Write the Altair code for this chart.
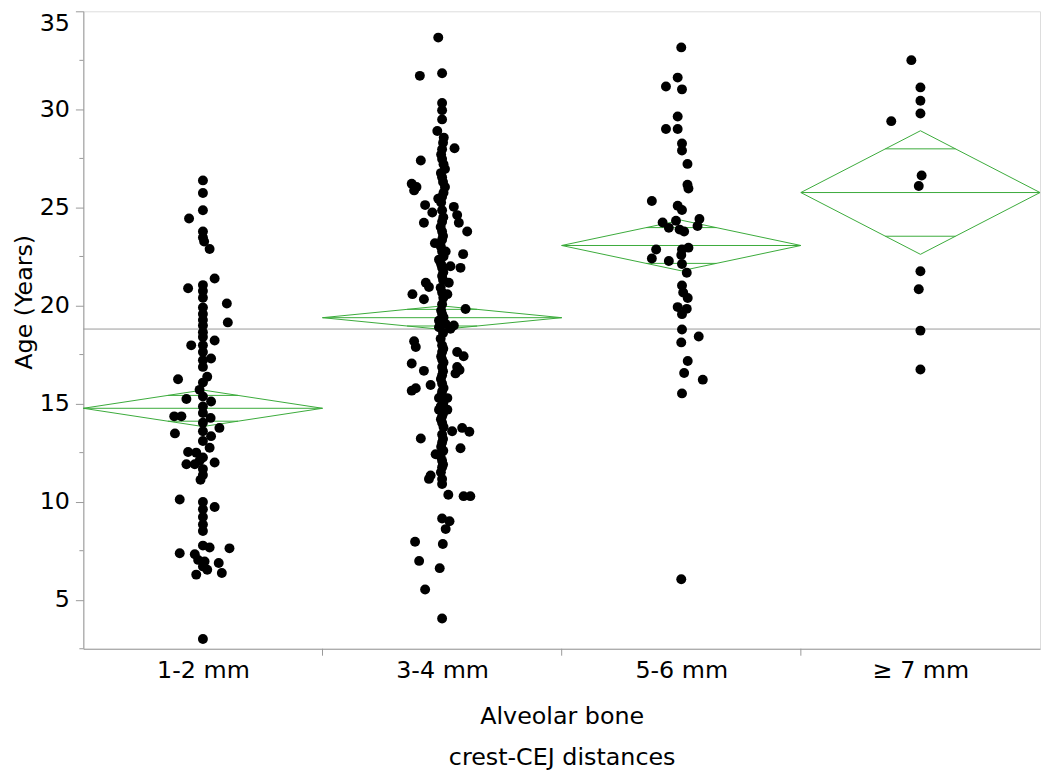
import json
import math
import altair as alt
import pandas as pd

# ---------------- data ----------------
groups = ["1-2 mm", "3-4 mm", "5-6 mm", "≥ 7 mm"]

age_12 = [26.38, 25.74, 24.86, 24.44, 23.77, 23.47, 23.26, 22.88, 21.38, 21.04,
          20.88, 20.74, 20.40, 20.10, 19.90, 19.57, 19.26, 19.14, 18.98, 18.64,
          18.39, 17.97, 18.22, 17.97, 17.63, 17.30, 17.21, 16.87, 16.24, 16.37,
          16.07, 15.70, 15.23, 15.36, 15.11, 14.85, 14.35, 14.35, 14.52, 14.27,
          14.02, 13.76, 13.48, 13.59, 13.34, 13.09, 12.75, 12.53, 12.50, 12.25,
          12.08, 12.00, 11.91, 11.91, 11.66, 11.36, 11.12, 10.11, 9.98, 9.73,
          9.61, 9.22, 8.83, 8.50, 7.37, 7.76, 7.66, 7.62, 7.32, 7.03,
          6.95, 6.87, 6.70, 6.53, 6.28, 6.36, 3.00]
jit_12 = [0, 0, 0, -0.058, 0, 0, 0.005, 0.028, 0.049, 0,
          -0.062, 0, 0, 0.10, 0, 0, 0, 0.104, 0, 0,
          0, -0.049, 0.049, 0, 0, 0.034, 0, 0, -0.104, 0.018,
          0, -0.014, -0.069, 0, 0.034, 0, -0.12, -0.09, 0, 0.032,
          0, 0.069, -0.117, 0, 0.034, 0, 0.028, -0.062, -0.028, 0,
          -0.014, 0.049, -0.069, -0.034, 0, 0, -0.01, -0.097, 0, 0.049,
          0, 0, 0, 0, -0.097, 0, 0.028, 0.111, -0.034, -0.02,
          0.007, 0.066, 0, 0.018, -0.028, 0.079, 0]

age_34 = [33.66, 31.71, 31.84, 30.33, 29.96, 29.49, 28.90, 28.56, 28.02, 27.97,
          27.39, 27.47, 26.96, 26.54, 26.21, 26.04, 25.87, 26.04, 25.54, 25.45,
          25.12, 25.03, 24.74, 24.86, 24.61, 24.22, 24.22, 24.27, 23.77, 23.77,
          23.35, 23.18, 22.76, 22.76, 22.62, 22.34, 21.92, 22.00, 21.92, 21.50,
          21.16, 20.94, 21.16, 20.58, 20.32, 20.66, 20.58, 19.82, 20.07, 19.57,
          19.23, 19.06, 18.98, 18.89, 18.81, 18.18, 17.88, 17.97, 17.63, 17.63,
          17.41, 17.25, 17.04, 16.67, 16.87, 16.54, 16.71, 16.87, 16.45, 15.95,
          15.78, 15.66, 16.03, 15.61, 15.28, 15.28, 14.69, 14.69, 14.35, 14.02,
          13.59, 13.76, 13.56, 13.22, 13.43, 13.01, 12.72, 12.42, 12.08, 11.75,
          11.16, 11.33, 11.16, 10.90, 10.35, 10.28, 10.28, 9.14, 9.00, 8.60,
          7.96, 7.84, 6.98, 6.61, 5.52, 4.04,
          28.30, 27.70, 27.20, 26.75, 26.30, 25.75, 25.25, 24.50, 24.00, 23.55,
          23.00, 22.50, 22.10, 21.70, 21.30, 20.90, 20.40, 19.75, 19.40, 19.00,
          18.60, 18.30, 17.80, 17.40, 17.10, 16.65, 16.25, 15.80, 15.40, 15.00,
          14.85, 14.50, 14.20, 13.80, 13.20, 12.80, 12.60, 12.30, 11.90, 11.50]
jit_34 = [-0.016, -0.093, 0, 0, 0, 0, -0.02, 0.007, 0.052, 0,
          -0.089, 0, 0.012, 0, -0.127, -0.107, -0.117, 0.012, 0, -0.016,
          -0.071, 0.049, -0.041, 0, 0.063, -0.076, 0.07, 0, 0.105, 0,
          0, -0.03, 0, 0.015, 0.088, -0.013, 0, 0.035, 0.077, 0,
          -0.068, -0.055, 0.028, -0.124, -0.076, 0, 0.022, 0.098, 0, 0,
          -0.013, 0.015, 0.049, -0.013, 0.035, -0.117, -0.11, 0, 0, 0.063,
          0.09, 0, -0.127, -0.076, 0.063, 0.056, 0.073, 0, 0, -0.048,
          -0.11, -0.127, 0, 0, -0.013, 0.022, -0.013, 0.022, 0, 0,
          0.042, 0.084, 0.114, -0.089, 0, 0, 0.077, -0.027, 0, 0,
          -0.055, -0.048, 0, 0, 0.026, 0.09, 0.118, 0, 0.031, 0.015,
          -0.113, 0.003, -0.096, -0.01, -0.071, 0,
          0.004, -0.004, 0.006, -0.005, 0.004, 0.006, -0.004, 0.005, -0.006, 0.004,
          -0.005, 0.006, -0.004, 0.005, 0.004, -0.006, 0.005, -0.004, 0.006, -0.005,
          0.004, -0.006, 0.005, -0.004, 0.006, 0.004, -0.005, 0.006, -0.004, 0.005,
          -0.006, 0.004, -0.005, 0.006, 0.004, -0.004, 0.005, -0.006, 0.004, -0.005]

age_56 = [33.16, 31.62, 31.17, 31.02, 29.64, 29.00, 29.00, 28.26, 27.90, 27.22,
          26.16, 25.97, 25.33, 25.09, 24.87, 24.23, 23.96, 24.32, 23.87, 23.77,
          24.41, 24.05, 22.95, 22.86, 22.58, 22.86, 22.40, 22.27, 22.12, 21.67,
          21.02, 20.66, 20.38, 19.92, 19.83, 19.56, 18.78, 18.42, 18.12, 17.17,
          16.56, 16.22, 15.52, 6.04]
jit_56 = [0, -0.015, -0.064, 0.003, -0.015, -0.064, -0.015, 0.003, 0.003, 0.026,
          0.026, 0.03, -0.123, -0.015, 0.003, -0.078, -0.052, -0.022, -0.007, 0.012,
          0.076, 0.068, 0.03, 0.003, 0, -0.105, -0.123, -0.052, 0.003, 0.023,
          0.003, 0.008, 0.027, -0.015, 0.023, 0.003, 0.003, 0.073, 0, 0.027,
          0.012, 0.09, 0.003, 0]

age_7 = [32.51, 31.12, 30.44, 29.79, 29.40, 26.63, 26.09, 21.75, 20.83, 18.72, 16.74]
jit_7 = [-0.038, 0, 0, 0, -0.122, 0.005, -0.007, 0, -0.007, 0, 0]

# means diamonds (group mean and 95% CI half-width) and grand mean
group_means = [14.76, 19.38, 23.06, 25.76]
ci_half = [0.93, 0.60, 1.29, 3.15]
grand_mean = [18.8]

y_ticks = [5, 10, 15, 20, 25, 30, 35]
y_minor = [2.5, 7.5, 12.5, 17.5, 22.5, 27.5, 32.5]
x_bounds = [1, 2, 3]

# ---------------- tables ----------------
rows = []
for gi, (ages, jits) in enumerate([(age_12, jit_12), (age_34, jit_34),
                                   (age_56, jit_56), (age_7, jit_7)]):
    for a, j in zip(ages, jits):
        rows.append({"g": groups[gi], "x": gi + 0.5 + j, "y": a})
pts = pd.DataFrame(rows)

dia = []
lines = []
k = 1 / math.sqrt(2)
hw = (1 - k) * 0.5
for gi, (m, h) in enumerate(zip(group_means, ci_half)):
    verts = [(gi, m), (gi + 0.5, m + h), (gi + 1, m), (gi + 0.5, m - h), (gi, m)]
    for o, (vx, vy) in enumerate(verts):
        dia.append({"g": groups[gi], "o": o, "x": vx, "y": vy})
    lines.append({"x": gi, "x2": gi + 1, "y": m})
    lines.append({"x": gi + 0.5 - hw, "x2": gi + 0.5 + hw, "y": m + h * k})
    lines.append({"x": gi + 0.5 - hw, "x2": gi + 0.5 + hw, "y": m - h * k})
dia = pd.DataFrame(dia)
lines = pd.DataFrame(lines)

W, H = 965, 643
FONT = "DejaVu Sans"
GRAY = "#999999"
GREEN = "#3aaa3a"

xscale = alt.Scale(domain=[0, 4], nice=False, zero=False)
yscale = alt.Scale(domain=[2.5, 35], nice=False, zero=False)

label_expr = json.dumps(groups) + "[floor(datum.value)]"

x_axis = alt.Axis(values=[0.5, 1.5, 2.5, 3.5], labelExpr=label_expr, ticks=False,
                  tickSize=0, grid=False, domainColor=GRAY, labelFont=FONT,
                  labelFontSize=24, labelColor="black", labelPadding=10,
                  labelFlush=False, title=["Alveolar bone", "crest-CEJ distances"],
                  titleFont=FONT, titleFontSize=24, titleFontWeight="normal",
                  titleColor="black", titleY=56, titleBaseline="top",
                  titleLineHeight=42)
y_axis = alt.Axis(values=y_ticks, tickSize=8, tickColor=GRAY, domainColor=GRAY,
                  grid=False, labelFont=FONT, labelFontSize=24, labelColor="black",
                  labelPadding=6, labelFlush=True, title="Age (Years)",
                  titleFont=FONT, titleFontSize=24, titleFontWeight="normal",
                  titleColor="black", titleX=-47, titleY=293, titleBaseline="bottom")


def X(field="x"):
    return alt.X(f"{field}:Q", scale=xscale, axis=x_axis)


def Y(field="y"):
    return alt.Y(f"{field}:Q", scale=yscale, axis=y_axis)


gm = alt.Chart(pd.DataFrame({"y": grand_mean})).mark_rule(
    color=GRAY, strokeWidth=1).encode(y=Y())

diamonds = alt.Chart(dia).mark_line(color=GREEN, strokeWidth=1).encode(
    x=X(), y=Y(), detail="g:N", order="o:Q")

dlines = alt.Chart(lines).mark_rule(color=GREEN, strokeWidth=1).encode(
    x=X(), x2="x2:Q", y=Y())

points = alt.Chart(pts).mark_circle(color="black", size=100, opacity=1).encode(
    x=X(), y=Y())

xt = alt.Chart(pd.DataFrame({"x": x_bounds})).mark_rule(color=GRAY).encode(
    x=X(), y=alt.value(H), y2=alt.value(H + 7))

yt = alt.Chart(pd.DataFrame({"y": y_minor})).mark_rule(color=GRAY).encode(
    y=Y(), x=alt.value(-4), x2=alt.value(0))

chart = alt.layer(gm, diamonds, dlines, points, xt, yt).properties(
    width=W, height=H,
    autosize=alt.AutoSizeParams(type="none"),
    padding={"left": 76, "top": 0, "right": 2, "bottom": 124},
).configure_view(stroke=GRAY, strokeWidth=1).configure(background="white")

chart.save("out.html", embed_options={"renderer": "svg", "actions": False})
